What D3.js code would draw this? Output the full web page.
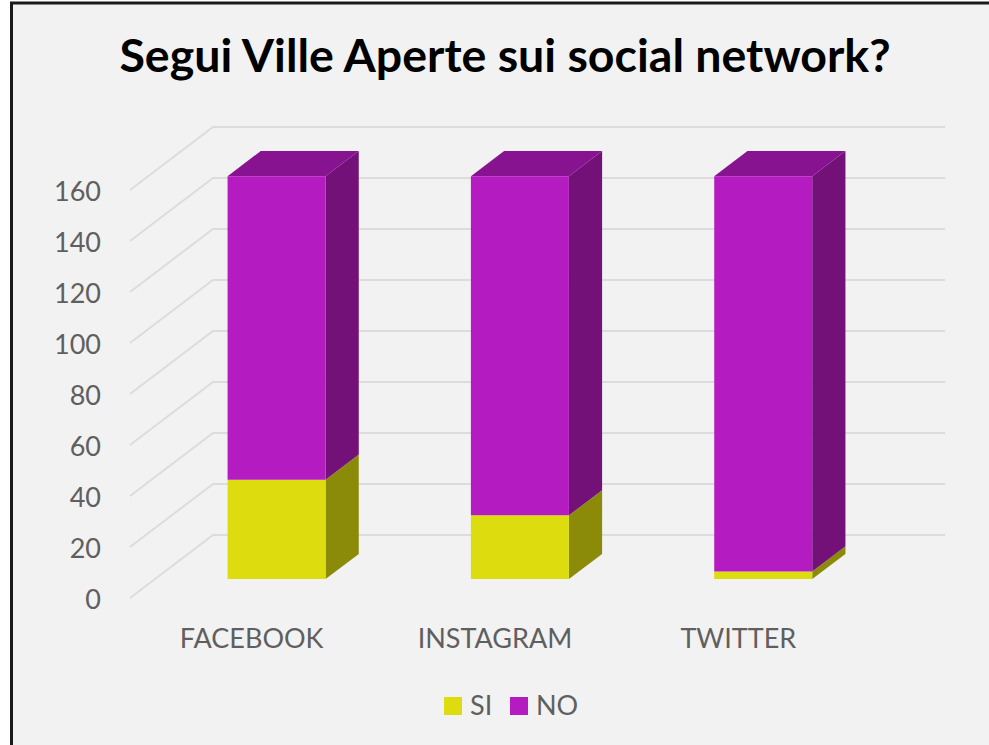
<!DOCTYPE html>
<head>
  <title>Segui Ville Aperte sui social network?</title>
  <script src="https://d3js.org/d3.v7.min.js"></script>
  <style>
    html, body { margin: 0; padding: 0; background: #fff; }
    svg { display: block; font-family: Lato, sans-serif; }
    .grid { fill: none; stroke: #dcdcdc; stroke-width: 2; }
    .tick-label { fill: #5f5f5f; font-size: 27px; }
  </style>
</head>
<body>
  <svg width="989" height="745"></svg>
  <script>
    const categories = ["FACEBOOK", "INSTAGRAM", "TWITTER"];
    const si = [39, 25, 3];
    const no = [119, 133, 155];
    const yTicks = [0, 20, 40, 60, 80, 100, 120, 140, 160];
    const legendLabels = ["SI", "NO"];
    const colors = { si: "#dcdc0e", siSide: "#8b8b09", no: "#b41bc0", noTop: "#881391", noSide: "#731178" };

    const svg = d3.select("svg");

    // front plane of the 3D box, the back wall sits at depth 1
    const x = d3.scaleBand().domain(categories).range([130, 860]);
    const y = d3.scaleLinear().domain([0, 160]).range([598, 190]);
    const depthX = d3.scaleLinear().domain([0, 1]).range([0, 83]);
    const depthY = d3.scaleLinear().domain([0, 1]).range([0, -63]);
    const barWidth = 98;
    const barFront = 0.3, barBack = 0.7;

    const px = (left, d) => left + depthX(d);
    const py = (v, d) => y(v) + depthY(d);
    const poly = pts => "M" + pts.map(p => p.join(",")).join("L") + "Z";

    // chart background, left and top edges have the dark border
    svg.append("rect").attr("x", 12).attr("y", 3).attr("width", 977).attr("height", 742).attr("fill", "#f2f2f2");
    svg.append("path").attr("d", "M11.5,745V3H989").attr("fill", "none").attr("stroke", "#1a1a1a").attr("stroke-width", 3);

    // gridlines
    svg.selectAll(".grid").data(yTicks).enter().append("path")
      .attr("class", "grid")
      .attr("d", d => `M${px(130, 0)},${py(d, 0)}L${px(130, 1)},${py(d, 1)}H945`);

    // y labels
    svg.selectAll(".ylab").data(yTicks).enter().append("text")
      .attr("class", "tick-label")
      .attr("text-anchor", "end")
      .attr("x", 101)
      .attr("y", d => y(d) + 11)
      .text(d => d);

    // x labels
    svg.selectAll(".xlab").data(categories).enter().append("text")
      .attr("class", "tick-label")
      .attr("text-anchor", "middle")
      .attr("x", d => x(d) + x.bandwidth() / 2)
      .attr("y", 648)
      .text(d => d);

    // one stacked box per category
    const drawBox = (c, lo, hi, front, side, top) => {
      const l = x(c) + (x.bandwidth() - barWidth) / 2;
      const r = l + barWidth;
      const g = svg.append("g");
      g.append("path").attr("fill", side).attr("d", poly([
        [px(r, barFront), py(lo, barFront)], [px(r, barBack), py(lo, barBack)],
        [px(r, barBack), py(hi, barBack)], [px(r, barFront), py(hi, barFront)]]));
      if (top) g.append("path").attr("fill", top).attr("d", poly([
        [px(l, barFront), py(hi, barFront)], [px(r, barFront), py(hi, barFront)],
        [px(r, barBack), py(hi, barBack)], [px(l, barBack), py(hi, barBack)]]));
      g.append("path").attr("fill", front).attr("d", poly([
        [px(l, barFront), py(lo, barFront)], [px(r, barFront), py(lo, barFront)],
        [px(r, barFront), py(hi, barFront)], [px(l, barFront), py(hi, barFront)]]));
    };
    categories.forEach((c, i) => {
      drawBox(c, 0, si[i], colors.si, colors.siSide, null);
      drawBox(c, si[i], si[i] + no[i], colors.no, colors.noSide, colors.noTop);
    });

    // title
    svg.append("text")
      .attr("x", 505).attr("y", 72)
      .attr("text-anchor", "middle")
      .attr("font-size", 46.5).attr("font-weight", 700).attr("fill", "#000")
      .text("Segui Ville Aperte sui social network?");

    // legend
    const legendX = d3.scaleOrdinal().domain(legendLabels).range([444, 510]);
    const legendColor = d3.scaleOrdinal().domain(legendLabels).range([colors.si, colors.no]);
    const leg = svg.selectAll(".leg").data(legendLabels).enter().append("g")
      .attr("transform", d => `translate(${legendX(d)},697)`);
    leg.append("rect").attr("width", 18).attr("height", 18).attr("fill", d => legendColor(d));
    leg.append("text").attr("class", "tick-label").attr("x", 26).attr("y", 18).text(d => d);
  </script>
</body>
